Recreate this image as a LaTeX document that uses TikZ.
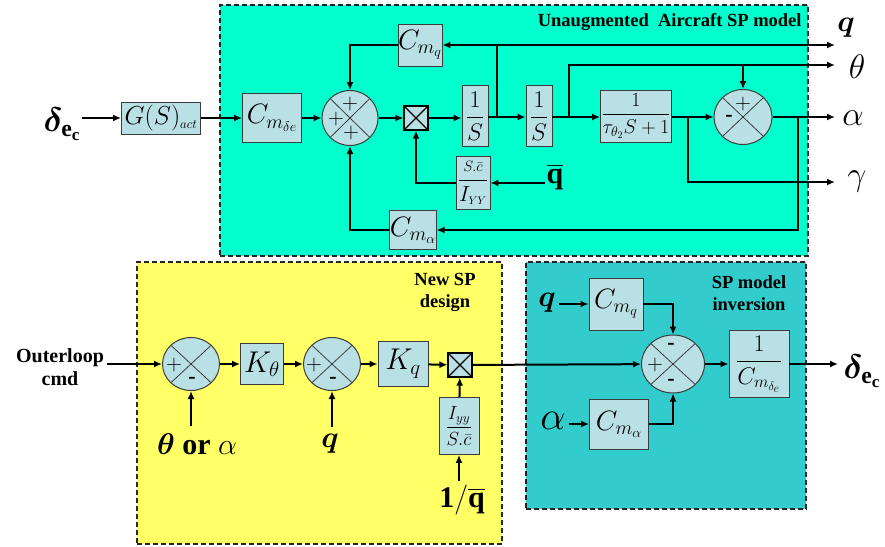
\RequirePackage{fix-cm}
\documentclass[tikz,border=0pt]{standalone}
\usepackage{amsmath}
\usepackage{bm}
\usepackage{fontspec}
\setmainfont{Liberation Serif}
\usepackage{tikz}
\usetikzlibrary{arrows.meta,positioning,shapes.geometric,backgrounds}
\definecolor{aquabg}{RGB}{0,255,204}
\definecolor{yellowbg}{RGB}{255,255,102}
\definecolor{tealbg}{RGB}{51,204,204}
\definecolor{blkfill}{RGB}{185,224,228}
\definecolor{blkline}{RGB}{60,60,60}

\begin{document}
\begin{tikzpicture}[
  x=1pt, y=-1pt,
  blk/.style 2 args={rectangle, draw=blkline, fill=blkfill, line width=0.9pt,
              minimum width=#1, minimum height=#2, inner sep=0pt,
              font=\fontsize{28}{30}\selectfont},
  sumj/.style 2 args={ellipse, draw=blkline, fill=blkfill, line width=1pt,
              minimum width=#1, minimum height=#2, inner sep=0pt,
              path picture={\draw[blkline, line width=0.8pt]
                (path picture bounding box.north west) -- (path picture bounding box.south east)
                (path picture bounding box.north east) -- (path picture bounding box.south west);}},
  mult/.style={rectangle, draw=black, fill=blkfill, line width=1.2pt,
              minimum size=24pt, inner sep=0pt,
              path picture={\draw[black, line width=1.2pt]
                (path picture bounding box.north west) -- (path picture bounding box.south east)
                (path picture bounding box.north east) -- (path picture bounding box.south west);}},
  arr/.style={-{Latex[length=8pt,width=7pt]}, line width=2pt},
  area/.style={rectangle, draw=black!85, line width=1.6pt, dash pattern=on 5pt off 3pt,
              inner sep=0pt},
  ttl/.style={font=\fontsize{18.5}{22}\selectfont\bfseries, align=center, inner sep=0pt},
  sgn/.style={font=\fontsize{22}{22}\selectfont, inner sep=0pt},
  outl/.style={font=\fontsize{34}{34}\selectfont, inner sep=1pt},
  inl/.style={font=\fontsize{30}{30}\selectfont, inner sep=1pt, outer sep=6pt}
]
\useasboundingbox (0,0) rectangle (885,546);

%% ── Areas ──────────────────────────────────────────────────────
\node[area, fill=aquabg, minimum width=588pt, minimum height=251pt] (acm) at (514,130.5) {};
\node[area, fill=yellowbg, minimum width=365pt, minimum height=282pt] (nsp) at (319.5,403) {};
\node[area, fill=tealbg, minimum width=280pt, minimum height=247pt] (inv) at (666,385.5) {};

\node[ttl, below left=9pt and 7pt of acm.north east] (acmt) {Unaugmented\ \ Aircraft SP model};
\node[ttl] (nspt) at (445,292) {New SP\\design};
\node[ttl] (invt) at (749,293) {SP model\\inversion};

%% ── Aircraft model ─────────────────────────────────────────────
\node[outl] (dec) at (62,124) {$\bm{\delta}_{\mathbf{e}_{\mathbf{c}}}$};
\node[blk={79pt}{32pt}, font=\fontsize{26}{28}\selectfont] (gact) at (161,118) {$G(S)_{\scriptscriptstyle act}$};
\node[blk={59pt}{49pt}] (cmde) at (272,118) {$C_{m_{\delta e}}$};
\node[sumj={56pt}{55pt}] (sumA) at (350,118) {};
\node[mult] (mulA) at (416,118) {};
\node[blk={26pt}{61pt}, font=\fontsize{24}{26}\selectfont] (intA) at (475,116) {$\dfrac{1}{S}$};
\node[blk={26pt}{61pt}, font=\fontsize{24}{26}\selectfont] (intB) at (539,116) {$\dfrac{1}{S}$};
\node[blk={71pt}{52pt}, font=\fontsize{20}{22}\selectfont] (tauA) at (636,116) {$\dfrac{1}{\tau_{\theta_2}S+1}$};
\node[sumj={58pt}{55pt}] (sumB) at (743,117) {};
\node[blk={44pt}{42pt}] (cmqA) at (420,45) {$C_{m_q}$};
\node[blk={45pt}{39pt}] (cmaA) at (413,230) {$C_{m_\alpha}$};
\node[blk={34pt}{53pt}, font=\fontsize{22}{24}\selectfont] (scA) at (473,183)
  {$\dfrac{\mbox{\fontsize{15}{15}\selectfont$S.\bar{c}$}}{I_{\scriptscriptstyle YY}}$};
\node[inl, outer sep=1pt] (qbar) at (555,177) {$\overline{\mathbf{q}}$};

\node[sgn] (sA1) at (350,104) {$+$};
\node[sgn] (sA2) at (336,119) {$+$};
\node[sgn] (sA3) at (351,133) {$+$};
\node[sgn] (sB1) at (743,104) {$+$};
\node[sgn] (sB2) at (729,118) {\textbf{-}};

\coordinate (jq)  at (497,117);
\coordinate (jth) at (569,117);
\coordinate (jga) at (688,117);
\coordinate (jal) at (798,117);
\coordinate (qo)  at (835,45);
\coordinate (tho) at (835,65);
\coordinate (alo) at (835,117);
\coordinate (gao) at (835,182);

\node[outl, font=\fontsize{30}{30}\selectfont] (qlb) at (846,28) {$\bm{q}$};
\node[outl] (thlb) at (857,67) {$\theta$};
\node[outl] (allb) at (853,118) {$\alpha$};
\node[outl] (galb) at (857,181) {$\gamma$};

\draw[arr] (dec.east |- gact) -- (gact);
\draw[arr] (gact) -- (cmde);
\draw[arr] (cmde) -- (sumA);
\draw[arr] (sumA) -- (mulA);
\draw[arr] (mulA) -- (intA.west |- mulA);
\draw[arr] (intA.east |- jq) -- (intB.west |- jq);
\draw[arr] (intB.east |- jq) -- (tauA.west |- jq);
\draw[arr] (tauA.east |- jq) -- (sumB);
\draw[arr] (sumB) -- (alo);
\draw[arr] (jq) |- (cmqA);
\draw[arr] (jq) |- (qo);
\draw[arr] (cmqA) -| (sumA);
\draw[arr] (jth) |- (tho);
\draw[arr] (sumB |- tho) -- (sumB);
\draw[arr] (jga) |- (gao);
\draw[arr] (jal) |- (cmaA);
\draw[arr] (cmaA) -| (sumA);
\draw[arr] (qbar.west |- scA) -- (scA);
\draw[arr] (scA) -| (mulA);

%% ── New SP design ──────────────────────────────────────────────
\node[font=\fontsize{20}{23}\selectfont\bfseries, align=center] (outer) at (60,367) {Outerloop\\cmd};
\node[sumj={57pt}{53pt}] (sumC) at (191,364) {};
\node[blk={43pt}{41pt}, font=\fontsize{30}{30}\selectfont] (kth) at (262,364) {$K_\theta$};
\node[sumj={57pt}{53pt}] (sumD) at (332,364) {};
\node[blk={50pt}{45pt}, font=\fontsize{30}{30}\selectfont] (kq) at (403,364) {$K_q$};
\node[mult] (mulB) at (460,365) {};
\node[blk={40pt}{57pt}, font=\fontsize{19}{21}\selectfont] (iyy) at (459,426) {$\dfrac{I_{yy}}{S.\bar{c}}$};

\node[inl] (thal) at (197,444) {$\bm{\theta}$ \textbf{or} $\alpha$};
\node[inl] (qin) at (330,444) {$\bm{q}$};
\node[inl, outer sep=3pt] (qinv) at (462,500) {$\mathbf{1/\overline{q}}$};

\node[sgn] (sC1) at (174,365) {$+$};
\node[sgn] (sC2) at (192,380) {\textbf{-}};
\node[sgn] (sD1) at (314,365) {$+$};
\node[sgn] (sD2) at (333,380) {\textbf{-}};

\draw[arr] (outer.east |- sumC) -- (sumC);
\draw[arr] (sumC) -- (kth);
\draw[arr] (kth) -- (sumD);
\draw[arr] (sumD) -- (kq);
\draw[arr] (kq) -- (mulB);
\draw[arr] (thal.north -| sumC) -- (sumC);
\draw[arr] (qin.north -| sumD) -- (sumD);
\draw[arr] (qinv.north -| iyy) -- (iyy);
\draw[arr] (iyy) -- (mulB);

%% ── SP model inversion ─────────────────────────────────────────
\node[sumj={63pt}{58pt}] (sumE) at (673,364) {};
\node[blk={54pt}{52pt}] (cmqB) at (616,304) {$C_{m_q}$};
\node[blk={59pt}{50pt}] (cmaB) at (619,424) {$C_{m_\alpha}$};
\node[blk={60pt}{67pt}, font=\fontsize{24}{26}\selectfont] (cinv) at (759,364) {$\dfrac{1}{C_{m_{\delta_e}}}$};
\node[inl, outer sep=2pt] (qB) at (547,303) {$\bm{q}$};
\node[inl, font=\fontsize{40}{40}\selectfont, outer sep=2pt] (alB) at (553,421) {$\alpha$};
\node[outl] (decB) at (862,371) {$\bm{\delta}_{\mathbf{e}_{\mathbf{c}}}$};
\coordinate (deco) at (838,364);

\node[sgn] (sE1) at (671,346) {\textbf{-}};
\node[sgn] (sE2) at (655,365) {$+$};
\node[sgn] (sE3) at (671,382) {\textbf{-}};

\draw[arr] (mulB) -- (sumE);
\draw[arr] (qB.east |- cmqB) -- (cmqB);
\draw[arr] (alB.east |- cmaB) -- (cmaB);
\draw[arr] (cmqB) -| (sumE);
\draw[arr] (cmaB) -| (sumE);
\draw[arr] (sumE) -- (cinv);
\draw[arr] (cinv) -- (deco);

\end{tikzpicture}
\end{document}
